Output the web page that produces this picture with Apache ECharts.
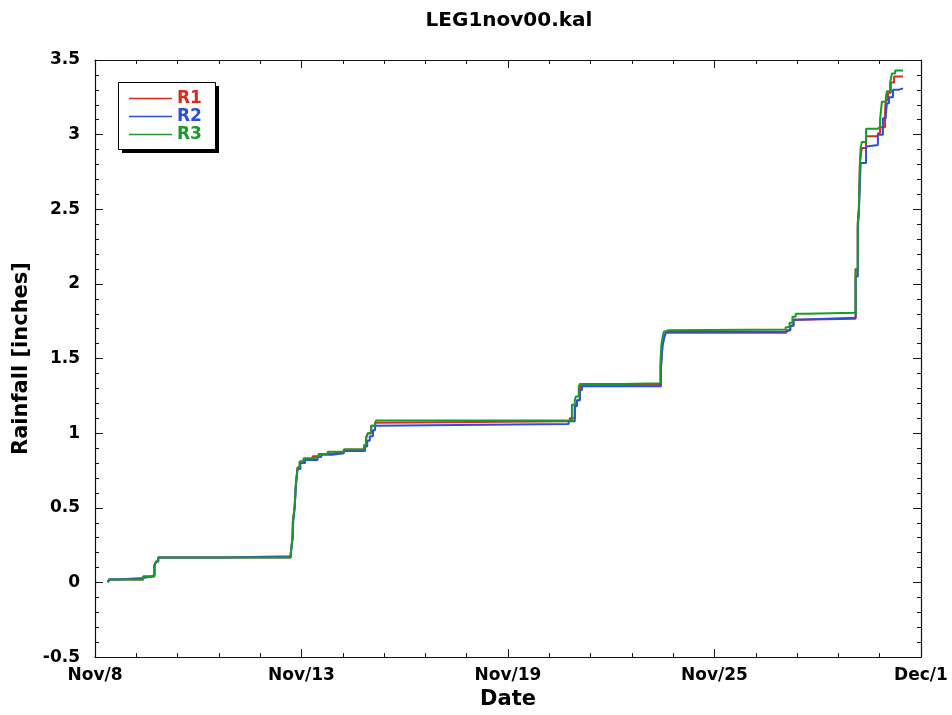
<!DOCTYPE html>
<html>
<head>
<meta charset="utf-8">
<script src="https://cdn.jsdelivr.net/npm/echarts@6/dist/echarts.min.js"></script>
<style>
html,body{margin:0;padding:0;background:#fff;}
#chart{width:952px;height:715px;}
</style>
</head>
<body>
<div id="chart"></div>
<script>
// x values are days since Nov 8, 2000 00:00
const xTickLabels = ['Nov/8', 'Nov/13', 'Nov/19', 'Nov/25', 'Dec/1'];

const r1Days = [0.36,0.39,1.34,1.65,1.70,1.76,5.45,5.50,5.51,5.56,5.59,5.64,5.70,5.81,6.06,6.23,6.48,6.93,7.49,7.55,7.60,7.69,7.80,7.83,10.62,13.22,13.36,13.42,13.50,13.53,15.76,15.80,15.85,15.90,19.25,19.36,19.45,19.55,21.18,21.24,21.27,21.30,21.35,21.47,21.80,21.86,22.00,22.02,22.08,22.16,22.25,22.50];
const r1Rain = [0.00,0.02,0.04,0.11,0.14,0.168,0.19,0.30,0.41,0.51,0.65,0.77,0.81,0.83,0.845,0.86,0.87,0.89,0.92,0.97,1.00,1.05,1.07,1.075,1.08,1.10,1.19,1.22,1.30,1.325,1.45,1.59,1.65,1.672,1.69,1.72,1.76,1.767,2.10,2.41,2.50,2.81,2.91,2.99,3.01,3.05,3.17,3.23,3.28,3.35,3.39,3.39];

const r2Days = [0.36,0.39,0.64,1.34,1.57,1.66,1.70,1.76,3.63,5.45,5.50,5.52,5.56,5.59,5.64,5.72,5.85,6.20,6.30,6.60,6.93,7.52,7.58,7.65,7.74,7.80,7.84,13.19,13.36,13.42,13.50,13.56,15.76,15.80,15.85,15.90,19.25,19.36,19.45,19.55,21.18,21.24,21.27,21.32,21.47,21.52,21.80,21.94,22.02,22.05,22.11,22.22,22.36,22.50];
const r2Rain = [0.00,0.02,0.03,0.04,0.05,0.12,0.14,0.168,0.175,0.19,0.30,0.41,0.50,0.64,0.76,0.80,0.82,0.84,0.855,0.865,0.88,0.91,0.95,0.98,1.02,1.05,1.062,1.08,1.18,1.22,1.29,1.315,1.44,1.58,1.64,1.68,1.69,1.72,1.76,1.773,2.05,2.38,2.48,2.81,2.92,2.93,3.00,3.11,3.13,3.21,3.25,3.30,3.31,3.31];

const r3Days = [0.36,0.39,1.34,1.65,1.70,1.76,5.45,5.50,5.51,5.56,5.59,5.64,5.70,5.81,6.06,6.23,6.48,6.93,7.49,7.55,7.60,7.69,7.80,7.83,13.28,13.36,13.39,13.47,13.50,14.67,15.74,15.77,15.81,15.84,15.87,15.98,19.23,19.34,19.42,19.51,19.79,21.18,21.24,21.27,21.30,21.32,21.35,21.47,21.80,21.86,21.91,22.02,22.05,22.14,22.19,22.28,22.50];
const r3Rain = [0.00,0.02,0.04,0.11,0.14,0.168,0.19,0.30,0.41,0.51,0.65,0.77,0.81,0.83,0.84,0.86,0.875,0.89,0.92,0.97,1.00,1.05,1.07,1.085,1.19,1.22,1.245,1.31,1.33,1.335,1.45,1.59,1.65,1.68,1.69,1.695,1.71,1.74,1.78,1.80,1.807,2.10,2.41,2.50,2.81,2.91,2.95,3.04,3.053,3.10,3.22,3.25,3.29,3.35,3.41,3.43,3.43];

const seriesNames = ['R1', 'R2', 'R3'];
const seriesColors = ['#dd2a1b', '#2a4fe0', '#1a9a2a'];

const zip = (d, v) => d.map((x, i) => [x, v[i]]);
const seriesData = [zip(r1Days, r1Rain), zip(r2Days, r2Rain), zip(r3Days, r3Rain)];

const FONT = 'DejaVu Sans';
const xInterval = 5.75;
// thin horizontal bar spanning the full icon box (tiny corner marks fix the bounding box)
const lineIcon = 'path://M0,6.3 L43,6.3 L43,7.7 L0,7.7 Z M0,0 L0.01,0 L0,0.01 Z M43,14 L42.99,14 L43,13.99 Z';

function xAxisCfg(pos, showLabels) {
  return {
    type: 'value', position: pos, min: 0, max: 23, interval: xInterval,
    name: showLabels ? 'Date' : '', nameLocation: 'middle', nameGap: 28,
    nameTextStyle: {fontFamily: FONT, fontWeight: 'bold', fontSize: 21, color: '#000'},
    axisLine: {show: true, onZero: false, lineStyle: {color: '#111', width: 1.2}},
    axisTick: {show: true, inside: true, length: 8, lineStyle: {color: '#111'}},
    minorTick: {show: true, splitNumber: 5, length: 4, lineStyle: {color: '#111'}},
    axisLabel: {show: showLabels, margin: 10, fontFamily: FONT, fontWeight: 'bold', fontSize: 17, color: '#000',
      formatter: v => xTickLabels[Math.round(v / xInterval)] || ''},
    splitLine: {show: false}
  };
}
function yAxisCfg(pos, showLabels) {
  return {
    type: 'value', position: pos, min: -0.5, max: 3.5, interval: 0.5,
    name: showLabels ? 'Rainfall [inches]' : '', nameLocation: 'middle', nameGap: 49,
    nameTextStyle: {fontFamily: FONT, fontWeight: 'bold', fontSize: 21, color: '#000'},
    axisLine: {show: true, onZero: false, lineStyle: {color: '#111', width: 1.2}},
    axisTick: {show: true, inside: true, length: 8, lineStyle: {color: '#111'}},
    minorTick: {show: true, splitNumber: 5, length: 4, lineStyle: {color: '#111'}},
    axisLabel: {show: showLabels, margin: 15, fontFamily: FONT, fontWeight: 'bold', fontSize: 17, color: '#000'},
    splitLine: {show: false}
  };
}

const chart = echarts.init(document.getElementById('chart'));
chart.setOption({
  animation: false,
  backgroundColor: '#fff',
  title: {
    text: 'LEG1nov00.kal', left: 504, top: 6, textAlign: 'center',
    textStyle: {fontFamily: FONT, fontWeight: 'bold', fontSize: 20, color: '#000'}
  },
  grid: {left: 95, right: 31, top: 60, bottom: 55, containLabel: false},
  xAxis: [xAxisCfg('bottom', true), xAxisCfg('top', false)],
  yAxis: [yAxisCfg('left', true), yAxisCfg('right', false)],
  graphic: [
    {type: 'rect', z: 50, silent: true, shape: {x: 122, y: 86, width: 97, height: 67}, style: {fill: '#000'}},
    {type: 'rect', z: 51, silent: true, shape: {x: 118.5, y: 82.5, width: 97, height: 67}, style: {fill: '#fff', stroke: '#000', lineWidth: 1}}
  ],
  legend: {
    orient: 'vertical', left: 118, top: 82, z: 60,
    padding: [8, 12, 7, 11],
    itemWidth: 43, itemHeight: 14, itemGap: 1,
    icon: lineIcon,
    textStyle: {fontFamily: FONT, fontWeight: 'bold', fontSize: 17},
    data: seriesNames.map((n, i) => ({name: n, textStyle: {color: seriesColors[i]}, itemStyle: {color: seriesColors[i], borderWidth: 0}}))
  },
  series: seriesNames.map((n, i) => ({
    name: n, type: 'line', step: 'end', symbol: 'none',
    xAxisIndex: 0, yAxisIndex: 0,
    data: seriesData[i],
    lineStyle: {color: seriesColors[i], width: 2},
    itemStyle: {color: seriesColors[i]},
    z: 2 + i
  }))
});
</script>
</body>
</html>
